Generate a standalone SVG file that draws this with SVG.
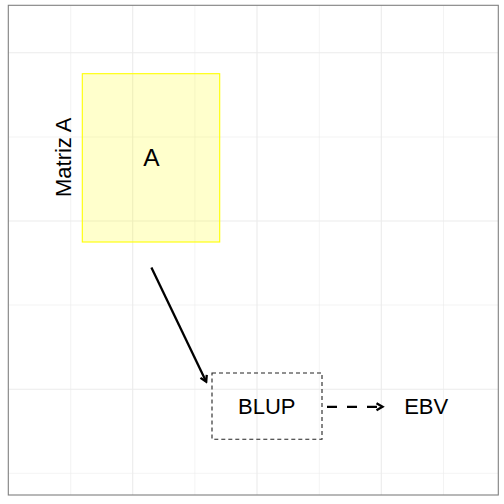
<svg xmlns="http://www.w3.org/2000/svg" width="504" height="504" viewBox="0 0 504 504">
<style>
.grid{stroke:#ebebeb;fill:none}
.lbl{font-family:"Liberation Sans",Arial,sans-serif;font-size:22px;fill:#000}
.conn{stroke:#000;fill:none;stroke-width:2.3}
</style>
<defs>
<marker id="ah" viewBox="-8 -5 10 10" refX="0" refY="0" markerWidth="10" markerHeight="10" markerUnits="userSpaceOnUse" orient="auto">
<polyline points="-6,-3.5 0,0 -6,3.5" fill="none" stroke="#000" stroke-width="2.3"/>
</marker>
</defs>
<rect x="0" y="0" width="504" height="504" fill="#fff"/>
<g id="grid">
<g class="grid" stroke-width="0.6">
<line x1="70.7" y1="5.3" x2="70.7" y2="495"/>
<line x1="194.9" y1="5.3" x2="194.9" y2="495"/>
<line x1="319.3" y1="5.3" x2="319.3" y2="495"/>
<line x1="443.5" y1="5.3" x2="443.5" y2="495"/>
<line x1="8.3" y1="137" x2="498.3" y2="137"/>
<line x1="8.3" y1="305" x2="498.3" y2="305"/>
<line x1="8.3" y1="473.3" x2="498.3" y2="473.3"/>
</g>
<g class="grid" stroke-width="1.1">
<line x1="132.7" y1="5.3" x2="132.7" y2="495"/>
<line x1="257" y1="5.3" x2="257" y2="495"/>
<line x1="381.3" y1="5.3" x2="381.3" y2="495"/>
<line x1="8.3" y1="52.7" x2="498.3" y2="52.7"/>
<line x1="8.3" y1="221" x2="498.3" y2="221"/>
<line x1="8.3" y1="389.3" x2="498.3" y2="389.3"/>
</g>
<rect x="8.3" y="5.3" width="490" height="489.7" fill="none" stroke="#7f7f7f" stroke-width="1.1"/>
</g>
<g id="matrizA">
<rect x="82.3" y="73.7" width="137.4" height="168.3" fill="#ffff00" fill-opacity="0.2" stroke="#ffff00" stroke-width="1.1"/>
<text class="lbl" x="151.5" y="166.3" text-anchor="middle" style="font-size:24.5px">A</text>
<text class="lbl" transform="translate(71,157.3) rotate(-90)" text-anchor="middle">Matriz A</text>
</g>
<g id="blup">
<rect x="212" y="373" width="110" height="66.3" fill="none" stroke="#222" stroke-width="1.1" stroke-dasharray="4,3"/>
<text class="lbl" x="266.8" y="414" text-anchor="middle">BLUP</text>
</g>
<g id="ebv">
<text class="lbl" x="426.2" y="414" text-anchor="middle">EBV</text>
</g>
<g id="connectors">
<line class="conn" x1="151.4" y1="267.5" x2="206.2" y2="381.8" marker-end="url(#ah)"/>
<line class="conn" x1="327" y1="406.8" x2="382.5" y2="406.8" stroke-dasharray="10,10" marker-end="url(#ah)"/>
</g>
</svg>
